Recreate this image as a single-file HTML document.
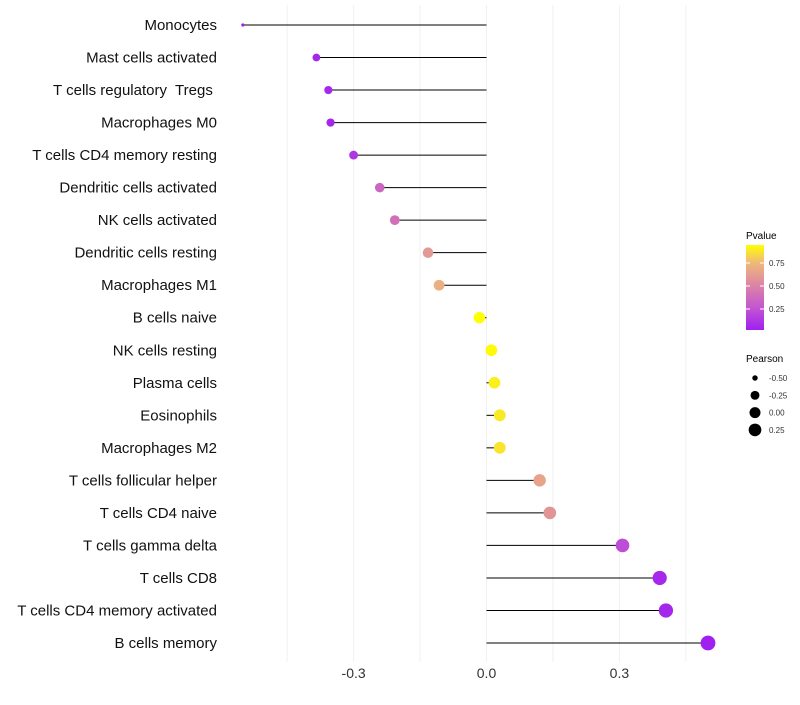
<!DOCTYPE html>
<html><head><meta charset="utf-8"><style>
body{margin:0;background:#fff;font-family:"Liberation Sans",sans-serif}
text{white-space:pre}
</style></head><body>
<svg id="chart" width="800" height="700" xmlns="http://www.w3.org/2000/svg" font-family="Liberation Sans, sans-serif">
<defs><linearGradient id="pg" x1="0" y1="1" x2="0" y2="0">
<stop offset="0" stop-color="#a020f0"/><stop offset="0.27" stop-color="#c457d0"/><stop offset="0.53" stop-color="#dc85a4"/><stop offset="0.8" stop-color="#f0bb78"/><stop offset="1" stop-color="#ffff00"/></linearGradient></defs>
<g id="grid"></g>
<g id="marks"></g>
<g id="labels"></g>
<g id="xt"></g>
<g>
<text x="746" y="239" font-size="10">Pvalue</text>
<rect x="746" y="245" width="18" height="85" fill="url(#pg)"/>
<g id="cbt"></g>
</g>
<g>
<text x="746" y="362" font-size="10">Pearson</text>
<g id="szl"></g>
</g>
</svg>
<script>
const categories=["Monocytes","Mast cells activated","T cells regulatory  Tregs ","Macrophages M0","T cells CD4 memory resting","Dendritic cells activated","NK cells activated","Dendritic cells resting","Macrophages M1","B cells naive","NK cells resting","Plasma cells","Eosinophils","Macrophages M2","T cells follicular helper","T cells CD4 naive","T cells gamma delta","T cells CD8","T cells CD4 memory activated","B cells memory"];
const pearson=[-0.55,-0.384,-0.357,-0.352,-0.30,-0.241,-0.207,-0.132,-0.107,-0.016,0.011,0.018,0.030,0.030,0.120,0.143,0.307,0.391,0.405,0.50];
const pvalue=[0.02,0.05,0.06,0.05,0.12,0.35,0.40,0.60,0.70,0.94,0.93,0.90,0.88,0.87,0.65,0.58,0.22,0.06,0.05,0.02];
const xTicks=[-0.3,0,0.3];
const xTickLabels=["-0.3","0.0","0.3"];
const gridVals=[-0.45,-0.3,-0.15,0,0.15,0.3,0.45];
const cbTicks=[0.25,0.5,0.75];
const sizeLegend=[-0.5,-0.25,0,0.25];
const NS="http://www.w3.org/2000/svg";
const x=v=>486.5+v*443;
const y=i=>25+i*(643-25)/(categories.length-1);
const r=v=>1.6+5.8*Math.sqrt(Math.max(0,(v+0.55)/1.05));
const stops=[[0,[160,32,240]],[0.27,[196,87,208]],[0.53,[220,133,164]],[0.8,[240,187,120]],[1,[255,255,0]]];
function col(p){const t=Math.min(1,Math.max(0,(p-0.02)/0.92));for(let k=1;k<stops.length;k++){if(t<=stops[k][0]){const a=stops[k-1],b=stops[k],f=(t-a[0])/(b[0]-a[0]);return "rgb("+a[1].map((c,j)=>Math.round(c+(b[1][j]-c)*f)).join(",")+")";}}return "rgb(255,255,0)";}
function mk(t,a,p){const e=document.createElementNS(NS,t);for(const k in a)e.setAttribute(k,a[k]);p.appendChild(e);return e;}
const g=document.getElementById('grid'),m=document.getElementById('marks'),lb=document.getElementById('labels'),xt=document.getElementById('xt');
gridVals.forEach(v=>{const l=mk('line',{x1:x(v),x2:x(v),y1:5,y2:662,stroke:'#f0f0f0','stroke-width':1},g);

});
categories.forEach((c,i)=>{
const s=mk('line',{x1:x(0),x2:x(pearson[i]),y1:y(i),y2:y(i),stroke:'#000','stroke-width':1},m);


const d=mk('circle',{cx:x(pearson[i]),cy:y(i),r:r(pearson[i]),fill:col(pvalue[i])},m);


const t=mk('text',{x:217,y:y(i)+5,'text-anchor':'end','font-size':15,fill:'#111'},lb);t.textContent=c;

});
xTicks.forEach((v,i)=>{const t=mk('text',{x:x(v),y:678,'text-anchor':'middle','font-size':14,fill:'#333'},xt);t.textContent=xTickLabels[i];

});
const cb=document.getElementById('cbt');
cbTicks.forEach(v=>{const yy=332-v*92;
mk('line',{x1:746,x2:750,y1:yy,y2:yy,stroke:'#fff'},cb);mk('line',{x1:760,x2:764,y1:yy,y2:yy,stroke:'#fff'},cb);
const t=mk('text',{x:769,y:yy+3,'font-size':8,fill:'#333'},cb);t.textContent=v.toFixed(2);

});
const sz=document.getElementById('szl');
sizeLegend.forEach((v,i)=>{const yy=378+i*17.3;
const c=mk('circle',{cx:755,cy:yy,r:r(v)*0.95,fill:'#000'},sz);


const t=mk('text',{x:769,y:yy+3,'font-size':8,fill:'#333'},sz);t.textContent=v.toFixed(2);

});
</script>
</body></html>
